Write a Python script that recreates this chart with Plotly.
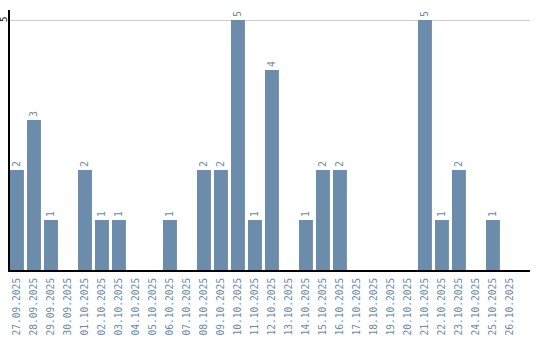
import plotly.graph_objects as go

dates = ["27.09.2025", "28.09.2025", "29.09.2025", "30.09.2025", "01.10.2025", "02.10.2025",
         "03.10.2025", "04.10.2025", "05.10.2025", "06.10.2025", "07.10.2025", "08.10.2025",
         "09.10.2025", "10.10.2025", "11.10.2025", "12.10.2025", "13.10.2025", "14.10.2025",
         "15.10.2025", "16.10.2025", "17.10.2025", "18.10.2025", "19.10.2025", "20.10.2025",
         "21.10.2025", "22.10.2025", "23.10.2025", "24.10.2025", "25.10.2025", "26.10.2025"]
counts = [2, 3, 1, 0, 2, 1, 1, 0, 0, 1, 0, 2, 2, 5, 1, 4, 0, 1, 2, 2, 0, 0, 0, 0, 5, 1, 2, 0, 1, 0]
y_ticks = [5]

bar_color = "#6b8cab"
labels = [str(v) if v else "" for v in counts]

fig = go.Figure(go.Bar(
    x=list(range(len(dates))), y=counts, marker_color=bar_color, marker_line_width=0,
    text=labels, textposition="outside", textangle=-90, cliponaxis=False,
    textfont=dict(family="DejaVu Sans Mono", size=10, color=bar_color),
))

for t in y_ticks:
    fig.add_annotation(x=0, xref="paper", y=t, yref="y", text=str(t), showarrow=False,
                       textangle=-90, xanchor="center", yanchor="middle", xshift=-6,
                       borderpad=0,
                       font=dict(family="DejaVu Sans Mono", size=9, color="black"))

fig.update_layout(
    width=540, height=340, margin=dict(l=10, r=10, t=10, b=70),
    plot_bgcolor="white", paper_bgcolor="white", showlegend=False, bargap=0.18,
    xaxis=dict(tickmode="array", tickvals=list(range(len(dates))), ticktext=dates,
               tickangle=-90, range=[-0.41, 30.18], showgrid=False, zeroline=False,
               showline=True, linecolor="black", linewidth=2, automargin=False,
               ticks="outside", ticklen=2, tickcolor="white",
               tickfont=dict(family="DejaVu Sans Mono", size=9.6, color=bar_color)),
    yaxis=dict(range=[0, 5.2], tickvals=y_ticks, showticklabels=False,
               showgrid=True, gridcolor="#cccccc", gridwidth=1, zeroline=False,
               showline=True, linecolor="black", linewidth=2, automargin=False),
)

fig.write_html("out.html")
